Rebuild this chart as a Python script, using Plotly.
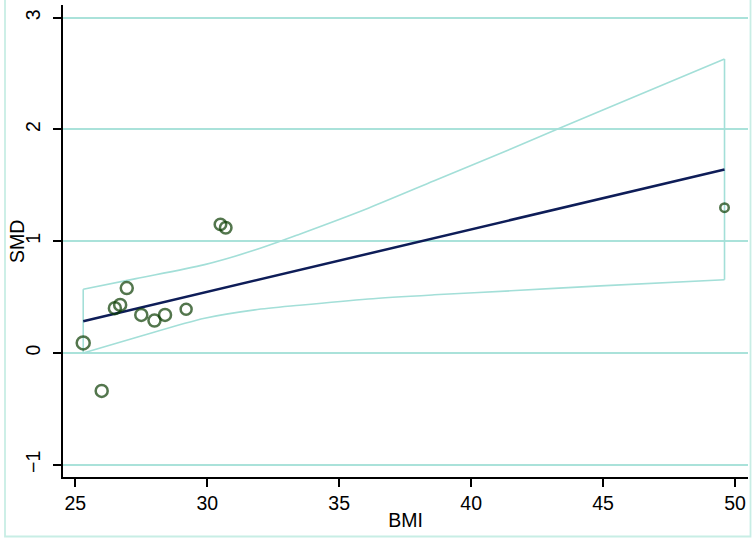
import plotly.graph_objects as go

# Study data
bmi = [25.3, 26.0, 26.5, 26.7, 26.95, 27.5, 28.0, 28.4, 29.2, 30.5, 30.7, 49.6]
smd = [0.09, -0.34, 0.40, 0.43, 0.58, 0.34, 0.29, 0.34, 0.39, 1.15, 1.12, 1.30]
marker_sizes = [13, 12, 12, 12, 12, 12, 12, 12, 11, 11.5, 11.5, 8.5]

# Fitted meta-regression line
fit_x = [25.3, 49.6]
fit_y = [0.284, 1.642]

# Confidence band
ci_x = [25.3, 27.3, 29.9, 31.8, 33.5, 36.1, 38.6, 41.5, 44.9, 49.6]
ci_upper = [0.57, 0.665, 0.79, 0.92, 1.063, 1.295, 1.54, 1.825, 2.165, 2.63]
ci_lower = [0.0, 0.138, 0.31, 0.385, 0.427, 0.483, 0.52, 0.556, 0.60, 0.655]

x_ticks = [25, 30, 35, 40, 45, 50]
y_ticks = [-1, 0, 1, 2, 3]

CI_COL = "#a3dfd8"
GRID_COL = "#aae2da"
LINE_COL = "#0e1d58"
MK_COL = "#0b3d02"
FONT = "Liberation Sans, Arial, sans-serif"

fig = go.Figure()

fig.add_trace(go.Scatter(x=ci_x, y=ci_upper, mode="lines",
                         line=dict(color=CI_COL, width=1.6, shape="spline", smoothing=0.8),
                         hoverinfo="skip", showlegend=False))
fig.add_trace(go.Scatter(x=ci_x, y=ci_lower, mode="lines",
                         line=dict(color=CI_COL, width=1.6, shape="spline", smoothing=0.8),
                         hoverinfo="skip", showlegend=False))
# vertical closing segments at both ends of the band
fig.add_trace(go.Scatter(x=[ci_x[0], ci_x[0], None, ci_x[-1], ci_x[-1]],
                         y=[ci_lower[0], ci_upper[0], None, ci_lower[-1], ci_upper[-1]],
                         mode="lines", line=dict(color=CI_COL, width=1.6),
                         hoverinfo="skip", showlegend=False))

fig.add_trace(go.Scatter(x=fit_x, y=fit_y, mode="lines",
                         line=dict(color=LINE_COL, width=2.5),
                         showlegend=False))

fig.add_trace(go.Scatter(x=bmi, y=smd, mode="markers",
                         marker=dict(symbol="circle", size=marker_sizes,
                                     color="rgba(255,255,255,0)",
                                     line=dict(color=MK_COL, width=2.5)),
                         showlegend=False))

W, H = 756, 542
L, R, T, B = 63, 8, 5, 65
pw = W - L - R
ph = H - T - B

def px_to_paper_x(px):
    return (px - L) / pw

def px_to_paper_y(py):
    return (H - B - py) / ph

fig.add_shape(type="rect", xref="paper", yref="paper",
              x0=px_to_paper_x(5), x1=px_to_paper_x(750.5),
              y0=px_to_paper_y(536.5), y1=px_to_paper_y(-3),
              line=dict(color="#c8eee5", width=1.8), fillcolor="rgba(0,0,0,0)",
              layer="below")

# y-axis title placed as rotated text
fig.add_annotation(text="SMD", textangle=-90, xref="paper", yref="paper",
                   x=px_to_paper_x(17), y=px_to_paper_y(242), xanchor="center",
                   yanchor="middle", showarrow=False, font=dict(size=19.5, color="black"))

fig.update_layout(
    width=W, height=H, autosize=False,
    margin=dict(l=L, r=R, t=T, b=B, pad=0),
    paper_bgcolor="white", plot_bgcolor="white",
    font=dict(family=FONT, size=19.5, color="black"),
    xaxis=dict(range=[24.534, 50.49], tickvals=x_ticks, ticks="outside", ticklen=8,
               tickwidth=1.5, tickcolor="black", showline=True, linecolor="black",
               linewidth=1.5, showgrid=False, zeroline=False,
               title=dict(text="BMI", standoff=0, font=dict(size=19.5)),
               tickfont=dict(size=19.5)),
    yaxis=dict(range=[-1.11, 3.113], tickvals=y_ticks, ticks="outside", ticklen=8,
               tickwidth=1.5, tickcolor="black", showline=True, linecolor="black",
               linewidth=1.5, showgrid=True, gridcolor=GRID_COL, gridwidth=2,
               zeroline=False, tickangle=-90, ticklabelstandoff=5,
               tickfont=dict(size=19.5)),
)

fig.write_html("out.html", config={"displayModeBar": False},
               post_script="document.body.style.margin='0';document.body.style.padding='0';")
